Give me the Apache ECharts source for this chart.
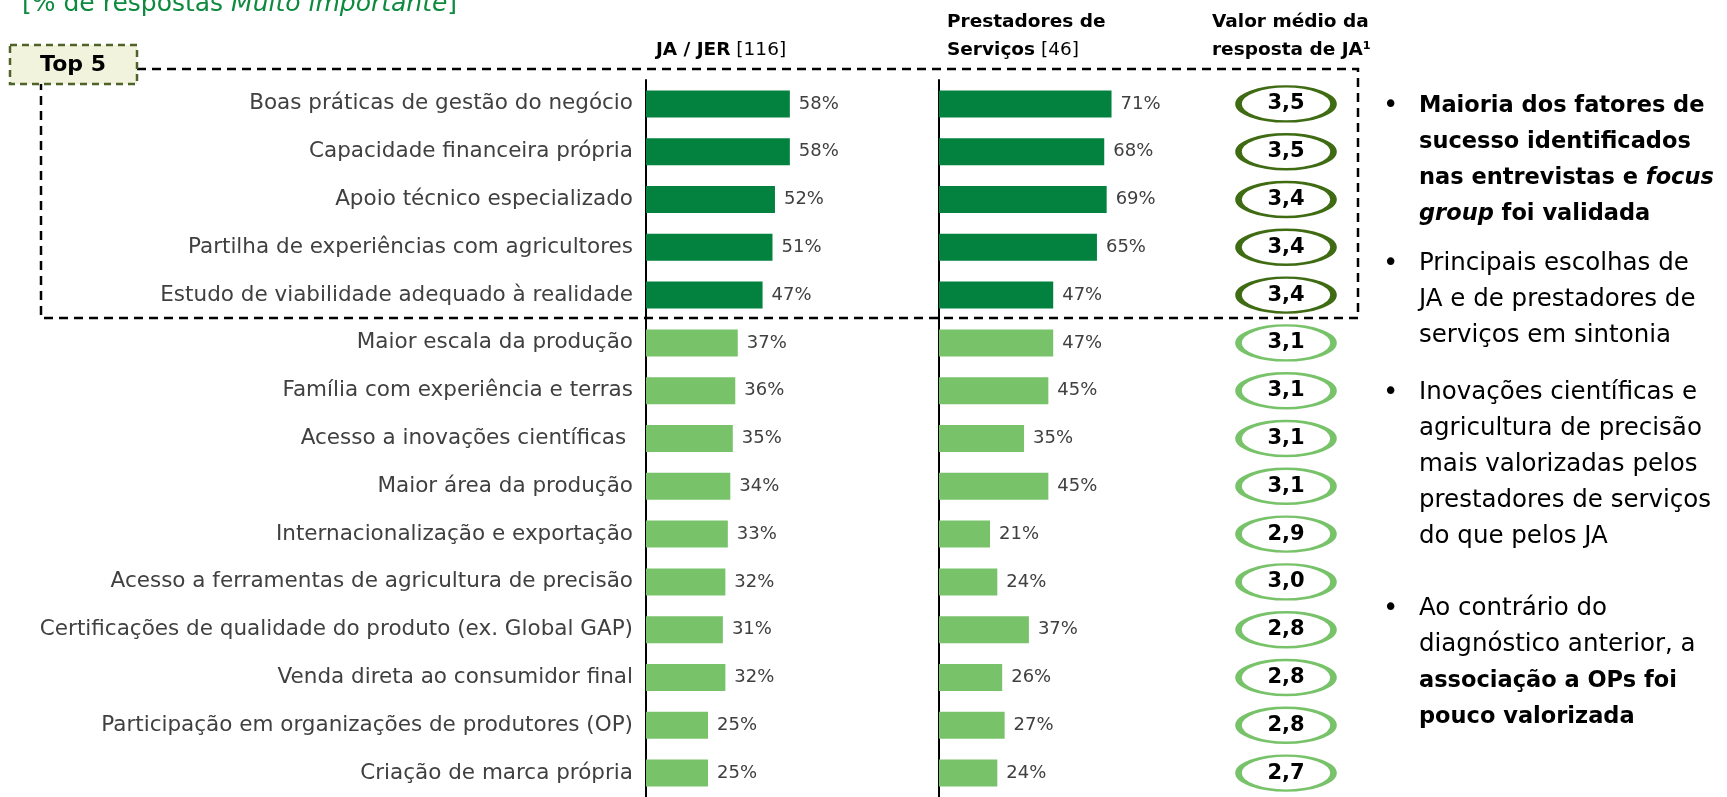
<!DOCTYPE html>
<html>
<head>
<meta charset="utf-8">
<script src="https://cdn.jsdelivr.net/npm/echarts@6/dist/echarts.min.js"></script>
<style>
  html, body { margin: 0; padding: 0; background: #fff; }
  #chart { width: 1727px; height: 797px; }
</style>
</head>
<body>
<div id="chart"></div>
<script>
// fatores de sucesso
var categorias = [
  'Boas práticas de gestão do negócio',
  'Capacidade financeira própria',
  'Apoio técnico especializado',
  'Partilha de experiências com agricultores',
  'Estudo de viabilidade adequado à realidade',
  'Maior escala da produção',
  'Família com experiência e terras',
  'Acesso a inovações científicas ',
  'Maior área da produção',
  'Internacionalização e exportação',
  'Acesso a ferramentas de agricultura de precisão',
  'Certificações de qualidade do produto (ex. Global GAP)',
  'Venda direta ao consumidor final',
  'Participação em organizações de produtores (OP)',
  'Criação de marca própria'
];
var jaVals = [58, 58, 52, 51, 47, 37, 36, 35, 34, 33, 32, 31, 32, 25, 25];
var psVals = [71, 68, 69, 65, 47, 47, 45, 35, 45, 21, 24, 37, 26, 27, 24];
var mediaVals = [3.5, 3.5, 3.4, 3.4, 3.4, 3.1, 3.1, 3.1, 3.1, 2.9, 3.0, 2.8, 2.8, 2.8, 2.7];
var topN = 5;

var verdeEscuro = '#03813E';
var verdeClaro = '#78C36A';
var font = 'DejaVu Sans';

var myChart = echarts.init(document.getElementById('chart'));

function corBarra(p) {
  return p.dataIndex < topN ? verdeEscuro : verdeClaro;
}

var barLabel = {
  show: true,
  position: 'right',
  distance: 9,
  formatter: '{c}%',
  fontFamily: font,
  fontSize: 18,
  color: '#404040'
};

var rowTop = 80, rowH = 720;

function bullet(y) {
  return {
    type: 'text', x: 1383, y: y + 18,
    style: { text: '•', verticalAlign: 'middle', fontFamily: font, fontSize: 26, fill: '#000' }
  };
}

var option = {
  animation: false,
  textStyle: { fontFamily: font },
  grid: [
    { left: 646, top: rowTop, width: 248, height: rowH },
    { left: 939, top: rowTop, width: 243, height: rowH },
    { left: 1238, top: rowTop, width: 96, height: rowH }
  ],
  xAxis: [
    { gridIndex: 0, type: 'value', min: 0, max: 100, show: false },
    { gridIndex: 1, type: 'value', min: 0, max: 100, show: false },
    { gridIndex: 2, type: 'value', min: 0, max: 1, show: false }
  ],
  yAxis: [
    {
      gridIndex: 0, type: 'category', data: categorias, inverse: true,
      axisLine: { show: true, lineStyle: { color: '#000', width: 2 } },
      axisTick: { show: false },
      axisLabel: { margin: 13, fontFamily: font, fontSize: 21.5, color: '#404040' }
    },
    {
      gridIndex: 1, type: 'category', data: categorias, inverse: true,
      axisLine: { show: true, lineStyle: { color: '#000', width: 2 } },
      axisTick: { show: false },
      axisLabel: { show: false }
    },
    {
      gridIndex: 2, type: 'category', data: categorias, inverse: true, show: false
    }
  ],
  series: [
    {
      name: 'JA / JER', type: 'bar', xAxisIndex: 0, yAxisIndex: 0,
      data: jaVals, barWidth: 27,
      itemStyle: { color: corBarra },
      label: barLabel
    },
    {
      name: 'Prestadores de Serviços', type: 'bar', xAxisIndex: 1, yAxisIndex: 1,
      data: psVals, barWidth: 27,
      itemStyle: { color: corBarra },
      label: barLabel
    },
    {
      name: 'Valor médio', type: 'scatter', xAxisIndex: 2, yAxisIndex: 2,
      data: mediaVals.map(function (v, i) {
        return {
          value: [0.5, i, v],
          itemStyle: {
            color: '#fff',
            opacity: 1,
            borderColor: i < topN ? '#3F6B13' : verdeClaro,
            borderWidth: 4
          }
        };
      }),
      symbol: 'circle',
      symbolSize: [95, 35],
      label: {
        show: true,
        position: 'inside',
        formatter: function (p) { return p.value[2].toFixed(1).replace('.', ','); },
        fontFamily: font,
        fontWeight: 'bold',
        fontSize: 21,
        color: '#000'
      }
    }
  ],
  graphic: [
    // titulo cortado no topo
    {
      type: 'text', x: 22, y: 4,
      style: {
        text: '[% de respostas {i|Muito importante}]', verticalAlign: 'middle',
        fontFamily: font, fontSize: 25, fill: '#0E8A3E',
        rich: { i: { fontStyle: 'italic', fontFamily: font, fontSize: 25, color: '#0E8A3E' } }
      }
    },
    // cabeçalhos
    {
      type: 'text', x: 721, y: 50,
      style: {
        text: '{b|JA / JER} [116]', align: 'center', verticalAlign: 'middle',
        fontFamily: font, fontSize: 18.5, fill: '#000',
        rich: { b: { fontWeight: 'bold', fontFamily: font, fontSize: 18.5 } }
      }
    },
    {
      type: 'text', x: 947, y: 8,
      style: {
        text: '{b|Prestadores de}\n{b|Serviços} [46]', verticalAlign: 'top', lineHeight: 28,
        fontFamily: font, fontSize: 18.5, fill: '#000',
        rich: { b: { fontWeight: 'bold', fontFamily: font, fontSize: 18.5, lineHeight: 28 } }
      }
    },
    {
      type: 'text', x: 1212, y: 8,
      style: {
        text: 'Valor médio da\nresposta de JA¹', verticalAlign: 'top', lineHeight: 28,
        fontFamily: font, fontSize: 18.5, fontWeight: 'bold', fill: '#000'
      }
    },
    // caixa tracejada do top 5
    {
      type: 'polyline', z: 10,
      shape: { points: [[137, 69], [1358, 69], [1358, 318], [41, 318], [41, 84]] },
      style: { stroke: '#000', lineWidth: 2.5, lineDash: [9, 6], fill: null }
    },
    {
      type: 'rect', z: 11,
      shape: { x: 10, y: 45, width: 127, height: 39 },
      style: { fill: '#F2F3DC', stroke: '#4F6228', lineWidth: 2.5, lineDash: [7, 5] }
    },
    {
      type: 'text', z: 12, x: 73, y: 65,
      style: { text: 'Top 5', align: 'center', verticalAlign: 'middle', fontFamily: font, fontSize: 22, fontWeight: 'bold', fill: '#000' }
    },
    // comentários à direita
    bullet(88), bullet(246), bullet(375), bullet(591),
    {
      type: 'text', x: 1419, y: 88,
      style: {
        text: 'Maioria dos fatores de\nsucesso identificados\nnas entrevistas e {i|focus}\n{i|group} foi validada',
        lineHeight: 36, fontFamily: font, fontSize: 22.5, fontWeight: 'bold', fill: '#000',
        rich: { i: { fontStyle: 'italic', fontWeight: 'bold', fontFamily: font, fontSize: 22.5, lineHeight: 36 } }
      }
    },
    {
      type: 'text', x: 1419, y: 246,
      style: {
        text: 'Principais escolhas de\nJA e de prestadores de\nserviços em sintonia',
        lineHeight: 36, fontFamily: font, fontSize: 24.5, fill: '#000'
      }
    },
    {
      type: 'text', x: 1419, y: 375,
      style: {
        text: 'Inovações científicas e\nagricultura de precisão\nmais valorizadas pelos\nprestadores de serviços\ndo que pelos JA',
        lineHeight: 36, fontFamily: font, fontSize: 24.5, fill: '#000'
      }
    },
    {
      type: 'text', x: 1419, y: 591,
      style: {
        text: 'Ao contrário do\ndiagnóstico anterior, a\n{b|associação a OPs foi}\n{b|pouco valorizada}',
        lineHeight: 36, fontFamily: font, fontSize: 24.5, fill: '#000',
        rich: { b: { fontWeight: 'bold', fontFamily: font, fontSize: 22.5, lineHeight: 36 } }
      }
    }
  ]
};

myChart.setOption(option);
</script>
</body>
</html>
